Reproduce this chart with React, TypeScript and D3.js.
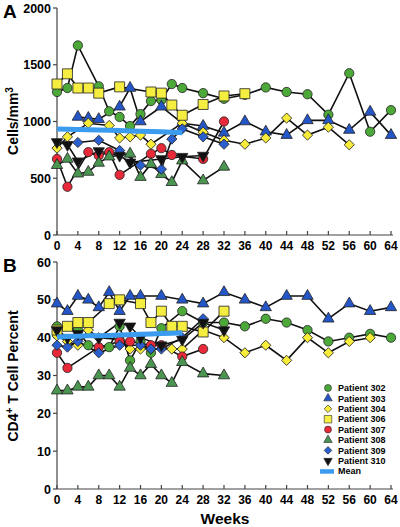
import React from "react";
import * as d3 from "d3";

// ---------- DATA ----------
const xTicks = [0, 4, 8, 12, 16, 20, 24, 28, 32, 36, 40, 44, 48, 52, 56, 60, 64];
const cellTicks = [0, 500, 1000, 1500, 2000];
const pctTicks = [0, 10, 20, 30, 40, 50, 60];

// Panel A: CD4 cells/mm3
const a302W = [0, 2, 4, 8, 10, 12, 14, 16, 18, 20, 22, 24, 28, 32, 36, 40, 44, 48, 52, 56, 60, 64];
const a302V = [1260, 1295, 1670, 1310, 1090, 1040, 960, 1065, 1180, 1190, 1330, 1295, 1250, 1200, 1235, 1300, 1260, 1240, 1060, 1425, 910, 1100];
const a303W = [4, 6, 8, 12, 14, 16, 20, 24, 28, 32, 36, 40, 44, 48, 52, 56, 60, 64];
const a303V = [1040, 1030, 1020, 1130, 1295, 1000, 1130, 985, 960, 900, 1000, 910, 880, 1010, 1010, 925, 1085, 880];
const a304W = [0, 2, 6, 10, 12, 14, 16, 18, 24, 28, 32, 36, 40, 44, 48, 52, 56];
const a304V = [765, 865, 985, 965, 855, 865, 880, 800, 985, 905, 835, 800, 855, 1030, 880, 950, 795];
const a306W = [0, 2, 4, 6, 8, 12, 18, 20, 22, 24, 28, 32, 36];
const a306V = [1330, 1420, 1295, 1295, 1250, 1305, 1260, 1250, 1145, 1055, 1150, 1225, 1245];
const a307W = [0, 2, 6, 8, 10, 12, 18, 20, 22, 28, 32];
const a307V = [670, 425, 730, 700, 730, 530, 715, 765, 705, 670, 1000];
const a308W = [0, 2, 4, 6, 8, 10, 14, 16, 18, 20, 22, 24, 28, 32];
const a308V = [615, 670, 540, 555, 635, 690, 715, 510, 625, 535, 465, 655, 480, 600];
const a309W = [4, 8, 12, 16, 20, 22, 24, 28, 32];
const a309V = [815, 835, 745, 615, 580, 845, 935, 865, 800];
const a310W = [0, 2, 4, 8, 12, 14, 20, 24, 28];
const a310V = [820, 795, 650, 740, 700, 640, 670, 690, 700];
const aMeanW = [0, 2, 4, 6, 8, 10, 12, 14, 16, 18, 20, 22, 24];
const aMeanV = [935, 932, 930, 927, 925, 922, 920, 917, 915, 912, 910, 905, 900];

// Panel B: CD4+ T cell percent
const b302W = [0, 4, 6, 10, 12, 14, 16, 18, 20, 24, 28, 32, 36, 40, 44, 48, 52, 56, 60, 64];
const b302V = [43, 42, 38, 37.5, 43, 34, 39, 36, 42.5, 47, 44, 44, 43, 45, 44, 42, 39, 40, 41, 40];
const b303W = [0, 2, 4, 6, 8, 10, 12, 14, 16, 20, 24, 28, 32, 36, 40, 44, 48, 52, 56, 60, 64];
const b303V = [49, 47, 51, 50, 48, 52, 47, 51, 51, 51, 50, 49, 52, 50, 48, 51, 51, 45, 49, 47, 48];
const b304W = [0, 2, 4, 6, 8, 12, 14, 16, 18, 22, 24, 28, 32, 36, 40, 44, 48, 52, 56, 60];
const b304V = [40.5, 39, 38, 42, 40, 39.5, 37, 37, 37, 37, 37, 42, 40, 36, 38, 34, 40, 36, 39, 40];
const b306W = [0, 2, 4, 6, 10, 12, 16, 18, 20, 22, 24, 28, 32];
const b306V = [42, 43, 44, 44, 49, 50, 49, 44, 47, 43, 43, 41.5, 47];
const b307W = [0, 2, 8, 12, 14, 18, 20, 24, 28];
const b307V = [36, 32, 37.5, 39, 39, 38, 38, 35, 37];
const b308W = [0, 2, 4, 6, 8, 10, 12, 14, 16, 18, 20, 22, 24, 28, 32];
const b308V = [26, 26, 27, 27, 30, 30, 27, 32, 30, 33, 30, 28, 33.5, 30.5, 30];
const b309W = [0, 2, 4, 8, 12, 16, 18, 20, 24, 28];
const b309V = [38, 37.5, 39, 36, 38, 38, 37, 37, 40, 45];
const b310W = [0, 2, 4, 8, 12, 14, 16, 20, 24, 28, 32];
const b310V = [42, 40, 41, 40, 44, 43, 40, 38, 39.5, 44, 42];
const bMeanW = [0, 2, 4, 6, 8, 10, 12, 14, 16, 18, 20, 22, 24];
const bMeanV = [40.2, 40.3, 40.4, 40.5, 40.5, 40.6, 40.7, 40.8, 40.9, 41, 41.1, 41.2, 41.3];

const patientNames = ["Patient 302", "Patient 303", "Patient 304", "Patient 306", "Patient 307", "Patient 308", "Patient 309", "Patient 310"];

// ---------- STYLE ----------
type Shape = "circle" | "triangle" | "diamond" | "square" | "down";
const styles: { shape: Shape; fill: string }[] = [
  { shape: "circle", fill: "#4da83a" },
  { shape: "triangle", fill: "#2456c8" },
  { shape: "diamond", fill: "#f7ec3a" },
  { shape: "square", fill: "#f5ee40" },
  { shape: "circle", fill: "#e8293a" },
  { shape: "triangle", fill: "#4a9550" },
  { shape: "diamond", fill: "#2a5fd0" },
  { shape: "down", fill: "#111111" },
];
const meanColor = "#3a9bef";
const FONT = "'Liberation Sans', Arial, Helvetica, sans-serif";

function symbolPath(shape: Shape, scale = 1): { d: string; rot: number } {
  let type: d3.SymbolType = d3.symbolCircle;
  let size = 68;
  let rot = 0;
  if (shape === "triangle") { type = d3.symbolTriangle; size = 56; }
  if (shape === "down") { type = d3.symbolTriangle; size = 56; rot = 180; }
  if (shape === "square") { type = d3.symbolSquare; size = 100; }
  if (shape === "diamond") { type = d3.symbolSquare; size = 52; rot = 45; }
  return { d: d3.symbol().type(type).size(size * scale * scale)() as string, rot };
}

const W = 400, H = 527;
const x0 = 57, x1 = 391;

interface PanelProps {
  top: number; bottom: number; domain: [number, number]; ticks: number[];
  series: { w: number[]; v: number[] }[]; mean: { w: number[]; v: number[] };
  letter: string; title: React.ReactNode; titleY: number;
}

function Panel({ top, bottom, domain, ticks, series, mean, letter, title, titleY }: PanelProps) {
  const x = d3.scaleLinear().domain([0, 64]).range([x0, x1]);
  const y = d3.scaleLinear().domain(domain).range([bottom, top]);
  const line = d3.line<[number, number]>().x(d => x(d[0])).y(d => y(d[1]));
  const axisColor = "#444";
  return (
    <g>
      {/* axes */}
      <line x1={x0} x2={x0} y1={top} y2={bottom} stroke={axisColor} strokeWidth={1.2} />
      <line x1={x0} x2={x1 + 2} y1={bottom} y2={bottom} stroke={axisColor} strokeWidth={1.2} />
      {ticks.map(t => (
        <g key={"yt" + t}>
          <line x1={x0 - 4} x2={x0} y1={y(t)} y2={y(t)} stroke={axisColor} strokeWidth={1.2} />
          <text x={x0 - 6} y={y(t)} dy="0.36em" textAnchor="end" fontFamily={FONT} fontWeight="bold" fontSize={12.5}>{t}</text>
        </g>
      ))}
      {xTicks.map(t => (
        <g key={"xt" + t}>
          <line x1={x(t)} x2={x(t)} y1={bottom - 4} y2={bottom} stroke={axisColor} strokeWidth={1.2} />
          <text x={x(t)} y={bottom + 15} textAnchor="middle" fontFamily={FONT} fontWeight="bold" fontSize={12}>{t}</text>
        </g>
      ))}
      <text x={3} y={top + 10} fontFamily={FONT} fontWeight="bold" fontSize={19}>{letter}</text>
      <text transform={`translate(18,${titleY}) rotate(-90)`} textAnchor="middle" fontFamily={FONT} fontWeight="bold" fontSize={14}>{title}</text>
      {/* lines */}
      {series.map((s, i) => (
        <path key={"l" + i} d={line(s.w.map((w, j) => [w, s.v[j]] as [number, number])) as string} fill="none" stroke="#111" strokeWidth={1.6} />
      ))}
      {/* markers */}
      {series.map((s, i) => {
        const st = styles[i];
        const sp = symbolPath(st.shape);
        return (
          <g key={"m" + i}>
            {s.w.map((w, j) => (
              <path key={j} d={sp.d} transform={`translate(${x(w)},${y(s.v[j])}) rotate(${sp.rot})`} fill={st.fill} stroke="#222" strokeWidth={0.8} />
            ))}
          </g>
        );
      })}
      <path d={line(mean.w.map((w, j) => [w, mean.v[j]] as [number, number])) as string} fill="none" stroke={meanColor} strokeWidth={5} />
    </g>
  );
}

export default function App() {
  const seriesA = [
    { w: a302W, v: a302V }, { w: a303W, v: a303V }, { w: a304W, v: a304V }, { w: a306W, v: a306V },
    { w: a307W, v: a307V }, { w: a308W, v: a308V }, { w: a309W, v: a309V }, { w: a310W, v: a310V },
  ];
  const seriesB = [
    { w: b302W, v: b302V }, { w: b303W, v: b303V }, { w: b304W, v: b304V }, { w: b306W, v: b306V },
    { w: b307W, v: b307V }, { w: b308W, v: b308V }, { w: b309W, v: b309V }, { w: b310W, v: b310V },
  ];
  const legX = 328, legY0 = 388, legStep = 10.4;
  return (
    <svg width={W} height={H} style={{ position: "absolute", left: 0, top: 0, background: "#fff" }}>
      <Panel top={8} bottom={235} domain={[0, 2000]} ticks={cellTicks} series={seriesA}
        mean={{ w: aMeanW, v: aMeanV }} letter="A" titleY={121}
        title={<>Cells/mm<tspan dy="-5" fontSize={10}>3</tspan></>} />
      <Panel top={262} bottom={489} domain={[0, 60]} ticks={pctTicks} series={seriesB}
        mean={{ w: bMeanW, v: bMeanV }} letter="B" titleY={376}
        title={<>CD4<tspan dy="-5" fontSize={10}>+</tspan><tspan dy="5"> T Cell Percent</tspan></>} />
      <text x={225} y={524} textAnchor="middle" fontFamily={FONT} fontWeight="bold" fontSize={15.5}>Weeks</text>
      {/* legend */}
      {patientNames.map((n, i) => {
        const st = styles[i];
        const sp = symbolPath(st.shape, 0.75);
        const yy = legY0 + i * legStep;
        return (
          <g key={n}>
            <path d={sp.d} transform={`translate(${legX},${yy}) rotate(${sp.rot})`} fill={st.fill} stroke="#222" strokeWidth={0.6} />
            <text x={legX + 10} y={yy} dy="0.35em" fontFamily={FONT} fontWeight="bold" fontSize={9}>{n}</text>
          </g>
        );
      })}
      <rect x={legX - 8} y={legY0 + 8 * legStep - 2} width={14} height={4.5} fill={meanColor} />
      <text x={legX + 10} y={legY0 + 8 * legStep} dy="0.35em" fontFamily={FONT} fontWeight="bold" fontSize={9}>Mean</text>
    </svg>
  );
}
